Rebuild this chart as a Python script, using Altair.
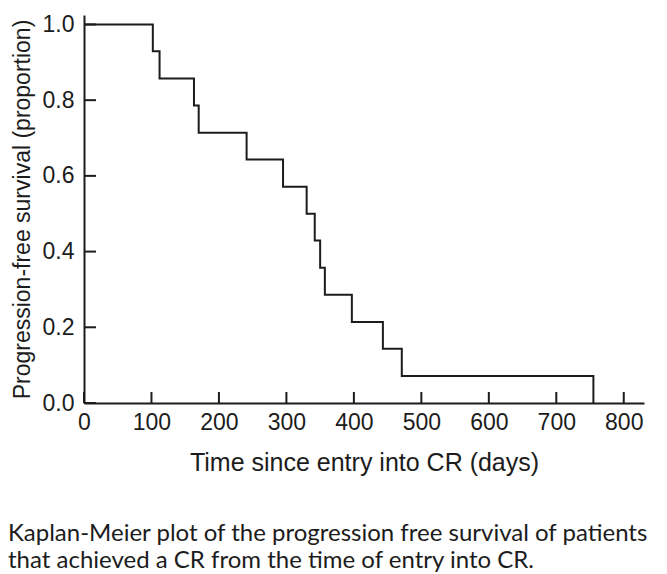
import altair as alt
import pandas as pd

# Kaplan-Meier step points (time in days, survival proportion after the step)
times = [0, 102, 112, 163, 170, 241, 295, 330, 342, 350, 357, 397, 443, 471, 755]
survival = [1.0, 0.929, 0.857, 0.786, 0.714, 0.643, 0.571, 0.500, 0.429,
            0.357, 0.286, 0.214, 0.143, 0.071, 0.0]

x_ticks = [0, 100, 200, 300, 400, 500, 600, 700, 800]
y_ticks = [0.0, 0.2, 0.4, 0.6, 0.8, 1.0]

x_title = "Time since entry into CR (days)"
y_title = "Progression-free survival (proportion)"
caption = [
    "Kaplan-Meier plot of the progression free survival of patients",
    "that achieved a CR from the time of entry into CR.",
]

INK = "#1c1c1c"
W, H = 560, 388

df = pd.DataFrame({"time": times, "surv": survival})
xt_df = pd.DataFrame({"time": x_ticks})
yt_df = pd.DataFrame({"surv": y_ticks})

xs = alt.Scale(domain=[0, 830], nice=False, zero=False)
ys = alt.Scale(domain=[0, 1.025], nice=False, zero=False)

xaxis = alt.Axis(
    values=x_ticks, title=x_title, tickSize=0, grid=False,
    domainColor=INK, domainWidth=2,
    labelFont="Liberation Sans", labelFontSize=23, labelColor=INK,
    labelPadding=8, labelFlush=False, labelOverlap=False,
    titleFont="Liberation Sans", titleFontSize=25, titleFontWeight="normal",
    titleColor=INK, titlePadding=16,
)
yaxis = alt.Axis(
    values=y_ticks, format=".1f", title=y_title, tickSize=0, grid=False,
    domainColor=INK, domainWidth=2,
    labelFont="Liberation Sans", labelFontSize=23, labelColor=INK,
    labelPadding=10, labelFlush=False, labelOverlap=False,
    titleFont="Liberation Sans", titleFontSize=23, titleFontWeight="normal",
    titleColor=INK, titleAngle=270, titleAlign="center",
    titleBaseline="alphabetic", titleX=-55, titleY=H / 2,
)

line = alt.Chart(df).mark_line(
    interpolate="step-after", color=INK, strokeWidth=2
).encode(
    x=alt.X("time:Q", scale=xs, axis=xaxis),
    y=alt.Y("surv:Q", scale=ys, axis=yaxis),
)

xticks = alt.Chart(xt_df).mark_rule(color=INK, strokeWidth=2).encode(
    x=alt.X("time:Q", scale=xs, axis=xaxis),
    y=alt.value(H),
    y2=alt.value(H - 11),
)

yticks = alt.Chart(yt_df).mark_rule(color=INK, strokeWidth=2).encode(
    y=alt.Y("surv:Q", scale=ys, axis=yaxis),
    x=alt.value(0),
    x2=alt.value(12),
)

chart = alt.layer(line, xticks, yticks).properties(
    width=W,
    height=H,
    autosize=alt.AutoSizeParams(type="none"),
    padding={"left": 76, "top": 7, "right": 15, "bottom": 171},
    title=alt.TitleParams(
        text=caption, orient="bottom", anchor="start", frame="group",
        dx=-76, offset=47, font="Lato", fontSize=24, fontWeight="normal",
        color=INK, lineHeight=27,
    ),
).configure_view(stroke=None)

chart.save("out.html", embed_options={"renderer": "svg", "actions": False})
